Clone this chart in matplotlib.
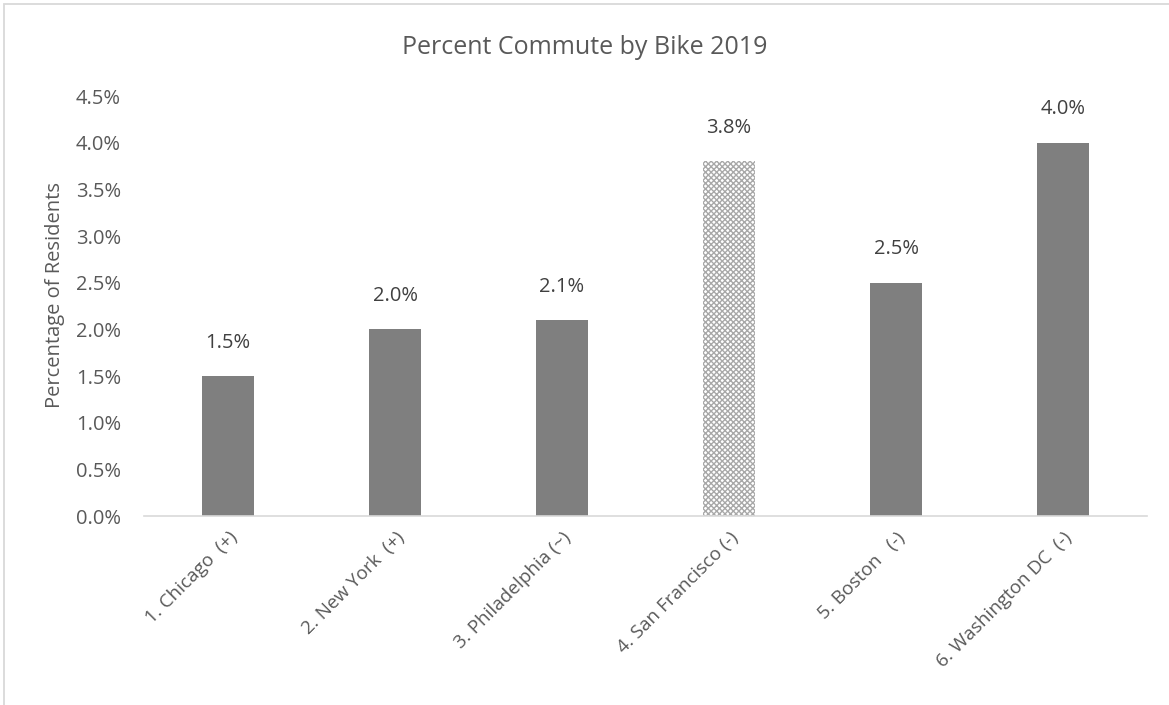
import matplotlib
matplotlib.use("Agg")
import matplotlib.pyplot as plt
import matplotlib.transforms as mtransforms
from matplotlib.ticker import FuncFormatter, MultipleLocator
from matplotlib.patches import Rectangle

categories = ["1. Chicago  (+)", "2. New York  (+)", "3. Philadelphia (~)",
              "4. San Francisco (-)", "5. Boston   (-)", "6. Washington DC  (-)"]
values = [1.5, 2.0, 2.1, 3.8, 2.5, 4.0]
hatched = [False, False, False, True, False, False]
title = "Percent Commute by Bike 2019"
ylabel = "Percentage of Residents"

plt.rcParams['font.family'] = ['Open Sans', 'DejaVu Sans']
txt = '#595959'
fs = 14.5

fig = plt.figure(figsize=(11.69, 7.05), dpi=100)
ax = fig.add_axes([0.1236, 0.268, 0.8572, 0.5958])

x = list(range(len(categories)))
for xi, v, h in zip(x, values, hatched):
    if h:
        ax.bar(xi, v, width=0.31, facecolor='white', edgecolor='#a8a8a8',
               hatch='xxxxxx', linewidth=0)
    else:
        ax.bar(xi, v, width=0.31, color='#7f7f7f', linewidth=0)
    ax.annotate(f"{v:.1f}%", (xi, v), xytext=(0, 24), textcoords='offset points',
                ha='center', va='center', fontsize=fs, color='#404040')

ax.set_xlim(-0.5, len(categories) - 0.5)
ax.set_ylim(0, 4.5)
ax.yaxis.set_major_locator(MultipleLocator(0.5))
ax.yaxis.set_major_formatter(FuncFormatter(lambda v, p: f"{v:.1f}%"))
ax.set_xticks(x)
ax.set_xticklabels(categories, rotation=45, ha='right', va='top',
                   rotation_mode='anchor', fontsize=13.6, color=txt)
offset = mtransforms.ScaledTranslation(-5/100, 0, fig.dpi_scale_trans)
for lab in ax.get_xticklabels():
    lab.set_transform(lab.get_transform() + offset)
for lab in ax.get_yticklabels():
    lab.set_fontsize(fs)
    lab.set_color(txt)
ax.tick_params(axis='both', length=0)
ax.tick_params(axis='y', pad=17)
ax.tick_params(axis='x', pad=9)
for s in ['top', 'right', 'left']:
    ax.spines[s].set_visible(False)
ax.spines['bottom'].set_color('#d9d9d9')
ax.spines['bottom'].set_linewidth(1.2)
ax.set_ylabel(ylabel, fontsize=fs, color=txt, va='center')
ax.yaxis.set_label_coords(-0.0893, 0.526)
fig.text(0.5, 0.933, title, ha='center', va='center', fontsize=18, color=txt)

fig.patches.append(Rectangle((3.5/1169, -0.1), 1.2, 1.1 - 4.5/705,
                             transform=fig.transFigure, fill=False,
                             edgecolor='#d9d9d9', linewidth=1.3))
fig.savefig("out.png", dpi=100)
